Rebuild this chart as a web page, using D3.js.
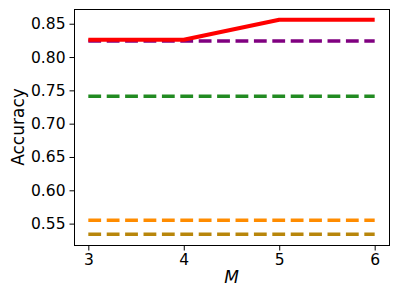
<!DOCTYPE html>
<html><head><meta charset="utf-8">
<script src="https://cdn.jsdelivr.net/npm/d3@7/dist/d3.min.js"></script>
<style>body{margin:0;background:#fff}svg{display:block}</style>
</head><body>
<script>
const xValues = [3, 4, 5, 6];
const xTicks = [3, 4, 5, 6];
const yTicks = [0.55, 0.60, 0.65, 0.70, 0.75, 0.80, 0.85];
const seriesRed = [0.826, 0.826, 0.856, 0.856];
const seriesPurple = [0.824, 0.824, 0.824, 0.824];
const seriesGreen = [0.741, 0.741, 0.741, 0.741];
const seriesOrange = [0.555, 0.555, 0.555, 0.555];
const seriesGold = [0.534, 0.534, 0.534, 0.534];

const W = 399, H = 299;
const m = {left: 74, top: 9, right: 389, bottom: 245};
const svg = d3.select("body").append("svg").attr("width", W).attr("height", H);

const allVals = [].concat(seriesRed, seriesPurple, seriesGreen, seriesOrange, seriesGold);
const ymin = d3.min(allVals), ymax = d3.max(allVals);
const yr = ymax - ymin;
const x = d3.scaleLinear().domain([3 - 0.15, 6 + 0.15]).range([m.left, m.right]);
const y = d3.scaleLinear().domain([ymin - 0.05 * yr, ymax + 0.05 * yr]).range([m.bottom, m.top]);

const line = d3.line().x((d, i) => x(xValues[i])).y(d => y(d));

const dashed = [
  {data: seriesPurple, color: "#800080"},
  {data: seriesGreen, color: "#228B22"},
  {data: seriesOrange, color: "#FF8C00"},
  {data: seriesGold, color: "#B8860B"}
];
dashed.forEach(s => {
  svg.append("path").attr("d", line(s.data)).attr("fill", "none")
    .attr("stroke", s.color).attr("stroke-width", 3.5)
    .attr("stroke-dasharray", "12.8,5.6");
});
svg.append("path").attr("d", line(seriesRed)).attr("fill", "none")
  .attr("stroke", "#FF0000").attr("stroke-width", 4).attr("stroke-linejoin", "round");

// frame
svg.append("rect").attr("x", m.left + 0.5).attr("y", m.top + 0.5)
  .attr("width", m.right - m.left).attr("height", m.bottom - m.top)
  .attr("fill", "none").attr("stroke", "#000").attr("stroke-width", 1);

const font = "'DejaVu Sans', sans-serif";
const xAxis = svg.append("g").attr("transform", `translate(0,${m.bottom + 0.5})`)
  .call(d3.axisBottom(x).tickValues(xTicks).tickFormat(d3.format("d")).tickSize(5).tickPadding(3));
const yAxis = svg.append("g").attr("transform", `translate(${m.left + 0.5},0)`)
  .call(d3.axisLeft(y).tickValues(yTicks).tickFormat(d3.format(".2f")).tickSize(5).tickPadding(4));
[xAxis, yAxis].forEach(g => {
  g.select(".domain").remove();
  g.selectAll("line").attr("stroke", "#000").attr("stroke-width", 1);
  g.selectAll("text").attr("fill", "#000").style("font-family", font).style("font-size", "15.5px");
});

svg.append("text").attr("x", (m.left + m.right) / 2).attr("y", 283)
  .attr("text-anchor", "middle").style("font-family", font).style("font-size", "17px")
  .style("font-style", "italic").text("M");
svg.append("text").attr("transform", `translate(24,${(m.top + m.bottom) / 2}) rotate(-90)`)
  .attr("text-anchor", "middle").style("font-family", font).style("font-size", "17px")
  .text("Accuracy");
</script>
</body></html>
